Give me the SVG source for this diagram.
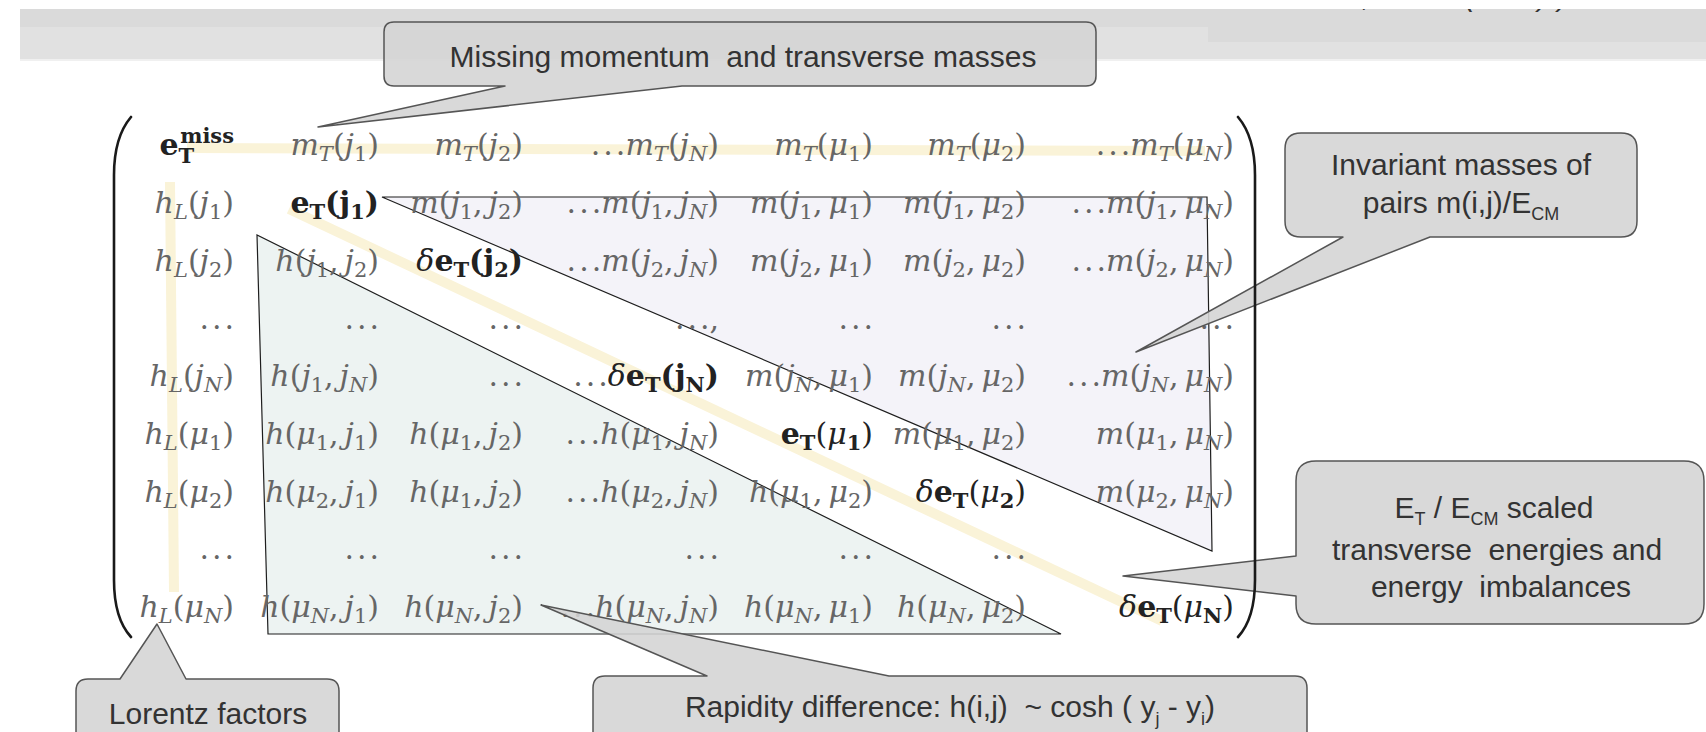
<svg xmlns="http://www.w3.org/2000/svg" width="1706" height="732" viewBox="0 0 1706 732">
<style>
.t{font-family:"DejaVu Serif","Liberation Serif",serif;font-size:30px;font-style:italic;fill:#666;text-anchor:end}
.u{font-style:normal}
.s{font-size:21px}
.b{font-weight:bold;font-style:normal;fill:#222}
.k{fill:#222}
.co{fill:#d4d4d4;fill-opacity:0.88;stroke:#555;stroke-width:1.5;stroke-linejoin:round}
.ct{font-family:"Liberation Sans",Arial,sans-serif;font-size:30px;fill:#333;text-anchor:middle}
.cs{font-size:18px}
.hl{stroke:#faf3d8;stroke-width:10;fill:none}
.tri1{fill:#f4f3f9;stroke:#1e1e1e;stroke-width:1.2}
.tri2{fill:#edf3f2;stroke:#1e1e1e;stroke-width:1.2}
.par{fill:none;stroke:#1a1a1a;stroke-width:2.6;stroke-linecap:round}
</style>
<defs>
<clipPath id="topclip"><rect x="1100" y="9" width="606" height="6"/></clipPath>
</defs>
<rect width="1706" height="732" fill="#fff"/>
<g id="band">
<rect x="20" y="9" width="1686" height="50" fill="#e1e1e1"/>
<rect x="20" y="9" width="1686" height="18" fill="#dadada"/>
<rect x="1208" y="27" width="498" height="15" fill="#dadada"/>
<rect x="20" y="59" width="1686" height="2" fill="#f0f0f0"/>
<text clip-path="url(#topclip)" font-family="Liberation Sans, sans-serif" font-size="30" font-style="italic" fill="#333" y="6"><tspan x="1362">,</tspan><tspan x="1465">(</tspan><tspan x="1538">)</tspan><tspan x="1558">)</tspan></text>
</g>
<g id="triangles">
<polygon id="upper-triangle" class="tri1" points="382,197 1207,197 1212,551"/>
<polygon id="lower-triangle" class="tri2" points="257,235 268,634 1061,634"/>
</g>
<g id="connectors">
<line class="hl" x1="187" y1="148" x2="1205" y2="151"/>
<line class="hl" x1="170" y1="182" x2="174" y2="592"/>
<line class="hl" x1="289" y1="209" x2="1162" y2="621" stroke-width="11"/>
</g>
<g id="matrix">
<!-- row 1 -->
<text class="t" x="234" y="155"><tspan class="b">e</tspan><tspan class="b s" dy="8">T</tspan><tspan class="b s" dx="-14" dy="-20">miss</tspan></text>
<text class="t" x="379" y="155">m<tspan class="s" dy="6">T</tspan><tspan class="u" dy="-6">(</tspan>j<tspan class="s u" dy="6">1</tspan><tspan class="u" dy="-6">)</tspan></text>
<text class="t" x="523" y="155">m<tspan class="s" dy="6">T</tspan><tspan class="u" dy="-6">(</tspan>j<tspan class="s u" dy="6">2</tspan><tspan class="u" dy="-6">)</tspan></text>
<text class="t" x="719" y="155"><tspan class="u">.&#8202;.&#8202;.</tspan>m<tspan class="s" dy="6">T</tspan><tspan class="u" dy="-6">(</tspan>j<tspan class="s" dy="6">N</tspan><tspan class="u" dy="-6">)</tspan></text>
<text class="t" x="873" y="155">m<tspan class="s" dy="6">T</tspan><tspan class="u" dy="-6">(</tspan>&#956;<tspan class="s u" dy="6">1</tspan><tspan class="u" dy="-6">)</tspan></text>
<text class="t" x="1026" y="155">m<tspan class="s" dy="6">T</tspan><tspan class="u" dy="-6">(</tspan>&#956;<tspan class="s u" dy="6">2</tspan><tspan class="u" dy="-6">)</tspan></text>
<text class="t" x="1234" y="155"><tspan class="u">.&#8202;.&#8202;.</tspan>m<tspan class="s" dy="6">T</tspan><tspan class="u" dy="-6">(</tspan>&#956;<tspan class="s" dy="6">N</tspan><tspan class="u" dy="-6">)</tspan></text>
<!-- row 2 -->
<text class="t" x="234" y="213">h<tspan class="s" dy="6">L</tspan><tspan class="u" dy="-6">(</tspan>j<tspan class="s u" dy="6">1</tspan><tspan class="u" dy="-6">)</tspan></text>
<text class="t" x="379" y="213"><tspan class="b">e</tspan><tspan class="b s" dy="6">T</tspan><tspan class="b" dy="-6">(j</tspan><tspan class="b s" dy="6">1</tspan><tspan class="b" dy="-6">)</tspan></text>
<text class="t" x="523" y="213">m<tspan class="u">(</tspan>j<tspan class="s u" dy="6">1</tspan><tspan class="u" dy="-6">,&#8201;</tspan>j<tspan class="s u" dy="6">2</tspan><tspan class="u" dy="-6">)</tspan></text>
<text class="t" x="719" y="213"><tspan class="u">.&#8202;.&#8202;.</tspan>m<tspan class="u">(</tspan>j<tspan class="s u" dy="6">1</tspan><tspan class="u" dy="-6">,&#8201;</tspan>j<tspan class="s" dy="6">N</tspan><tspan class="u" dy="-6">)</tspan></text>
<text class="t" x="873" y="213">m<tspan class="u">(</tspan>j<tspan class="s u" dy="6">1</tspan><tspan class="u" dy="-6">,&#8201;</tspan>&#956;<tspan class="s u" dy="6">1</tspan><tspan class="u" dy="-6">)</tspan></text>
<text class="t" x="1026" y="213">m<tspan class="u">(</tspan>j<tspan class="s u" dy="6">1</tspan><tspan class="u" dy="-6">,&#8201;</tspan>&#956;<tspan class="s u" dy="6">2</tspan><tspan class="u" dy="-6">)</tspan></text>
<text class="t" x="1234" y="213"><tspan class="u">.&#8202;.&#8202;.</tspan>m<tspan class="u">(</tspan>j<tspan class="s u" dy="6">1</tspan><tspan class="u" dy="-6">,&#8201;</tspan>&#956;<tspan class="s" dy="6">N</tspan><tspan class="u" dy="-6">)</tspan></text>
<!-- row 3 -->
<text class="t" x="234" y="271">h<tspan class="s" dy="6">L</tspan><tspan class="u" dy="-6">(</tspan>j<tspan class="s u" dy="6">2</tspan><tspan class="u" dy="-6">)</tspan></text>
<text class="t" x="379" y="271">h<tspan class="u">(</tspan>j<tspan class="s u" dy="6">1</tspan><tspan class="u" dy="-6">,&#8201;</tspan>j<tspan class="s u" dy="6">2</tspan><tspan class="u" dy="-6">)</tspan></text>
<text class="t" x="523" y="271"><tspan class="k">&#948;</tspan><tspan class="b">e</tspan><tspan class="b s" dy="6">T</tspan><tspan class="b" dy="-6">(j</tspan><tspan class="b s" dy="6">2</tspan><tspan class="b" dy="-6">)</tspan></text>
<text class="t" x="719" y="271"><tspan class="u">.&#8202;.&#8202;.</tspan>m<tspan class="u">(</tspan>j<tspan class="s u" dy="6">2</tspan><tspan class="u" dy="-6">,&#8201;</tspan>j<tspan class="s" dy="6">N</tspan><tspan class="u" dy="-6">)</tspan></text>
<text class="t" x="873" y="271">m<tspan class="u">(</tspan>j<tspan class="s u" dy="6">2</tspan><tspan class="u" dy="-6">,&#8201;</tspan>&#956;<tspan class="s u" dy="6">1</tspan><tspan class="u" dy="-6">)</tspan></text>
<text class="t" x="1026" y="271">m<tspan class="u">(</tspan>j<tspan class="s u" dy="6">2</tspan><tspan class="u" dy="-6">,&#8201;</tspan>&#956;<tspan class="s u" dy="6">2</tspan><tspan class="u" dy="-6">)</tspan></text>
<text class="t" x="1234" y="271"><tspan class="u">.&#8202;.&#8202;.</tspan>m<tspan class="u">(</tspan>j<tspan class="s u" dy="6">2</tspan><tspan class="u" dy="-6">,&#8201;</tspan>&#956;<tspan class="s" dy="6">N</tspan><tspan class="u" dy="-6">)</tspan></text>
<!-- row 4 -->
<text class="t u" x="234" y="329">.&#8202;.&#8202;.</text>
<text class="t u" x="379" y="329">.&#8202;.&#8202;.</text>
<text class="t u" x="523" y="329">.&#8202;.&#8202;.</text>
<text class="t u" x="719" y="329">.&#8202;.&#8202;.,</text>
<text class="t u" x="873" y="329">.&#8202;.&#8202;.</text>
<text class="t u" x="1026" y="329">.&#8202;.&#8202;.</text>
<text class="t u" x="1234" y="329">.&#8202;.&#8202;.</text>
<!-- row 5 -->
<text class="t" x="234" y="386">h<tspan class="s" dy="6">L</tspan><tspan class="u" dy="-6">(</tspan>j<tspan class="s" dy="6">N</tspan><tspan class="u" dy="-6">)</tspan></text>
<text class="t" x="379" y="386">h<tspan class="u">(</tspan>j<tspan class="s u" dy="6">1</tspan><tspan class="u" dy="-6">,&#8201;</tspan>j<tspan class="s" dy="6">N</tspan><tspan class="u" dy="-6">)</tspan></text>
<text class="t u" x="523" y="386">.&#8202;.&#8202;.</text>
<text class="t" x="719" y="386"><tspan class="u">.&#8202;.&#8202;.</tspan><tspan class="k">&#948;</tspan><tspan class="b">e</tspan><tspan class="b s" dy="6">T</tspan><tspan class="b" dy="-6">(j</tspan><tspan class="b s" dy="6">N</tspan><tspan class="b" dy="-6">)</tspan></text>
<text class="t" x="873" y="386">m<tspan class="u">(</tspan>j<tspan class="s" dy="6">N</tspan><tspan class="u" dy="-6">,&#8201;</tspan>&#956;<tspan class="s u" dy="6">1</tspan><tspan class="u" dy="-6">)</tspan></text>
<text class="t" x="1026" y="386">m<tspan class="u">(</tspan>j<tspan class="s" dy="6">N</tspan><tspan class="u" dy="-6">,&#8201;</tspan>&#956;<tspan class="s u" dy="6">2</tspan><tspan class="u" dy="-6">)</tspan></text>
<text class="t" x="1234" y="386"><tspan class="u">.&#8202;.&#8202;.</tspan>m<tspan class="u">(</tspan>j<tspan class="s" dy="6">N</tspan><tspan class="u" dy="-6">,&#8201;</tspan>&#956;<tspan class="s" dy="6">N</tspan><tspan class="u" dy="-6">)</tspan></text>
<!-- row 6 -->
<text class="t" x="234" y="444">h<tspan class="s" dy="6">L</tspan><tspan class="u" dy="-6">(</tspan>&#956;<tspan class="s u" dy="6">1</tspan><tspan class="u" dy="-6">)</tspan></text>
<text class="t" x="379" y="444">h<tspan class="u">(</tspan>&#956;<tspan class="s u" dy="6">1</tspan><tspan class="u" dy="-6">,&#8201;</tspan>j<tspan class="s u" dy="6">1</tspan><tspan class="u" dy="-6">)</tspan></text>
<text class="t" x="523" y="444">h<tspan class="u">(</tspan>&#956;<tspan class="s u" dy="6">1</tspan><tspan class="u" dy="-6">,&#8201;</tspan>j<tspan class="s u" dy="6">2</tspan><tspan class="u" dy="-6">)</tspan></text>
<text class="t" x="719" y="444"><tspan class="u">.&#8202;.&#8202;.</tspan>h<tspan class="u">(</tspan>&#956;<tspan class="s u" dy="6">1</tspan><tspan class="u" dy="-6">,&#8201;</tspan>j<tspan class="s" dy="6">N</tspan><tspan class="u" dy="-6">)</tspan></text>
<text class="t" x="873" y="444"><tspan class="b">e</tspan><tspan class="b s" dy="6">T</tspan><tspan class="k u" dy="-6">(</tspan><tspan class="k">&#956;</tspan><tspan class="b s" dy="6">1</tspan><tspan class="k u" dy="-6">)</tspan></text>
<text class="t" x="1026" y="444">m<tspan class="u">(</tspan>&#956;<tspan class="s u" dy="6">1</tspan><tspan class="u" dy="-6">,&#8201;</tspan>&#956;<tspan class="s u" dy="6">2</tspan><tspan class="u" dy="-6">)</tspan></text>
<text class="t" x="1234" y="444">m<tspan class="u">(</tspan>&#956;<tspan class="s u" dy="6">1</tspan><tspan class="u" dy="-6">,&#8201;</tspan>&#956;<tspan class="s" dy="6">N</tspan><tspan class="u" dy="-6">)</tspan></text>
<!-- row 7 -->
<text class="t" x="234" y="502">h<tspan class="s" dy="6">L</tspan><tspan class="u" dy="-6">(</tspan>&#956;<tspan class="s u" dy="6">2</tspan><tspan class="u" dy="-6">)</tspan></text>
<text class="t" x="379" y="502">h<tspan class="u">(</tspan>&#956;<tspan class="s u" dy="6">2</tspan><tspan class="u" dy="-6">,&#8201;</tspan>j<tspan class="s u" dy="6">1</tspan><tspan class="u" dy="-6">)</tspan></text>
<text class="t" x="523" y="502">h<tspan class="u">(</tspan>&#956;<tspan class="s u" dy="6">1</tspan><tspan class="u" dy="-6">,&#8201;</tspan>j<tspan class="s u" dy="6">2</tspan><tspan class="u" dy="-6">)</tspan></text>
<text class="t" x="719" y="502"><tspan class="u">.&#8202;.&#8202;.</tspan>h<tspan class="u">(</tspan>&#956;<tspan class="s u" dy="6">2</tspan><tspan class="u" dy="-6">,&#8201;</tspan>j<tspan class="s" dy="6">N</tspan><tspan class="u" dy="-6">)</tspan></text>
<text class="t" x="873" y="502">h<tspan class="u">(</tspan>&#956;<tspan class="s u" dy="6">1</tspan><tspan class="u" dy="-6">,&#8201;</tspan>&#956;<tspan class="s u" dy="6">2</tspan><tspan class="u" dy="-6">)</tspan></text>
<text class="t" x="1026" y="502"><tspan class="k">&#948;</tspan><tspan class="b">e</tspan><tspan class="b s" dy="6">T</tspan><tspan class="k u" dy="-6">(</tspan><tspan class="k">&#956;</tspan><tspan class="b s" dy="6">2</tspan><tspan class="k u" dy="-6">)</tspan></text>
<text class="t" x="1234" y="502">m<tspan class="u">(</tspan>&#956;<tspan class="s u" dy="6">2</tspan><tspan class="u" dy="-6">,&#8201;</tspan>&#956;<tspan class="s" dy="6">N</tspan><tspan class="u" dy="-6">)</tspan></text>
<!-- row 8 -->
<text class="t u" x="234" y="559">.&#8202;.&#8202;.</text>
<text class="t u" x="379" y="559">.&#8202;.&#8202;.</text>
<text class="t u" x="523" y="559">.&#8202;.&#8202;.</text>
<text class="t u" x="719" y="559">.&#8202;.&#8202;.</text>
<text class="t u" x="873" y="559">.&#8202;.&#8202;.</text>
<text class="t u" x="1026" y="559">.&#8202;.&#8202;.</text>
<!-- row 9 -->
<text class="t" x="234" y="617">h<tspan class="s" dy="6">L</tspan><tspan class="u" dy="-6">(</tspan>&#956;<tspan class="s" dy="6">N</tspan><tspan class="u" dy="-6">)</tspan></text>
<text class="t" x="379" y="617">h<tspan class="u">(</tspan>&#956;<tspan class="s" dy="6">N</tspan><tspan class="u" dy="-6">,&#8201;</tspan>j<tspan class="s u" dy="6">1</tspan><tspan class="u" dy="-6">)</tspan></text>
<text class="t" x="523" y="617">h<tspan class="u">(</tspan>&#956;<tspan class="s" dy="6">N</tspan><tspan class="u" dy="-6">,&#8201;</tspan>j<tspan class="s u" dy="6">2</tspan><tspan class="u" dy="-6">)</tspan></text>
<text class="t" x="719" y="617"><tspan class="u">.&#8202;.&#8202;.</tspan>h<tspan class="u">(</tspan>&#956;<tspan class="s" dy="6">N</tspan><tspan class="u" dy="-6">,&#8201;</tspan>j<tspan class="s" dy="6">N</tspan><tspan class="u" dy="-6">)</tspan></text>
<text class="t" x="873" y="617">h<tspan class="u">(</tspan>&#956;<tspan class="s" dy="6">N</tspan><tspan class="u" dy="-6">,&#8201;</tspan>&#956;<tspan class="s u" dy="6">1</tspan><tspan class="u" dy="-6">)</tspan></text>
<text class="t" x="1026" y="617">h<tspan class="u">(</tspan>&#956;<tspan class="s" dy="6">N</tspan><tspan class="u" dy="-6">,&#8201;</tspan>&#956;<tspan class="s u" dy="6">2</tspan><tspan class="u" dy="-6">)</tspan></text>
<text class="t" x="1234" y="617"><tspan class="k">&#948;</tspan><tspan class="b">e</tspan><tspan class="b s" dy="6">T</tspan><tspan class="k u" dy="-6">(</tspan><tspan class="k">&#956;</tspan><tspan class="b s" dy="6">N</tspan><tspan class="k u" dy="-6">)</tspan></text>
</g>
<g id="callout-missing">
<path class="co" d="M394,22 H1086 Q1096,22 1096,32 V76 Q1096,86 1086,86 H682 L318,127 L505,86 H394 Q384,86 384,76 V32 Q384,22 394,22 Z"/>
<text class="ct" x="743" y="67">Missing momentum&#160; and transverse masses</text>
</g>
<g id="callout-invariant">
<path class="co" d="M1301,133 H1621 Q1637,133 1637,149 V221 Q1637,237 1621,237 H1430 L1136,352 L1343,237 H1301 Q1285,237 1285,221 V149 Q1285,133 1301,133 Z"/>
<text class="ct" x="1461" y="175">Invariant masses of</text>
<text class="ct" x="1461" y="213">pairs m(i,j)/E<tspan class="cs" dy="7">CM</tspan></text>
</g>
<g id="callout-energies">
<path class="co" d="M1316,461 H1684 Q1704,461 1704,481 V604 Q1704,624 1684,624 H1316 Q1296,624 1296,604 V596 L1123,576 L1296,556 V481 Q1296,461 1316,461 Z"/>
<text class="ct" x="1494" y="518">E<tspan class="cs" dy="7">T</tspan><tspan dy="-7"> / E</tspan><tspan class="cs" dy="7">CM</tspan><tspan dy="-7"> scaled</tspan></text>
<text class="ct" x="1497" y="560">transverse&#160; energies and</text>
<text class="ct" x="1501" y="597">energy&#160; imbalances</text>
</g>
<g id="callout-rapidity">
<path class="co" d="M605,676 H707 L541,605 L889,676 H1295 Q1307,676 1307,688 V760 H593 V688 Q593,676 605,676 Z"/>
<text class="ct" x="950" y="717">Rapidity difference: h(i,j)&#160; ~ cosh ( y<tspan class="cs" dy="8">j</tspan><tspan dy="-8"> - y</tspan><tspan class="cs" dy="8">i</tspan><tspan dy="-8">)</tspan></text>
</g>
<g id="callout-lorentz">
<path class="co" d="M88,679 H120 L157,624 L186,679 H327 Q339,679 339,691 V760 H76 V691 Q76,679 88,679 Z"/>
<text class="ct" x="208" y="724">Lorentz factors</text>
</g>
<g id="parens">
<path class="par" d="M131,117 C120,130 114,150 114,175 V580 C114,605 120,625 131,637"/>
<path class="par" d="M1238,117 C1249,130 1255,150 1255,175 V580 C1255,605 1249,625 1238,637"/>
</g>
</svg>
